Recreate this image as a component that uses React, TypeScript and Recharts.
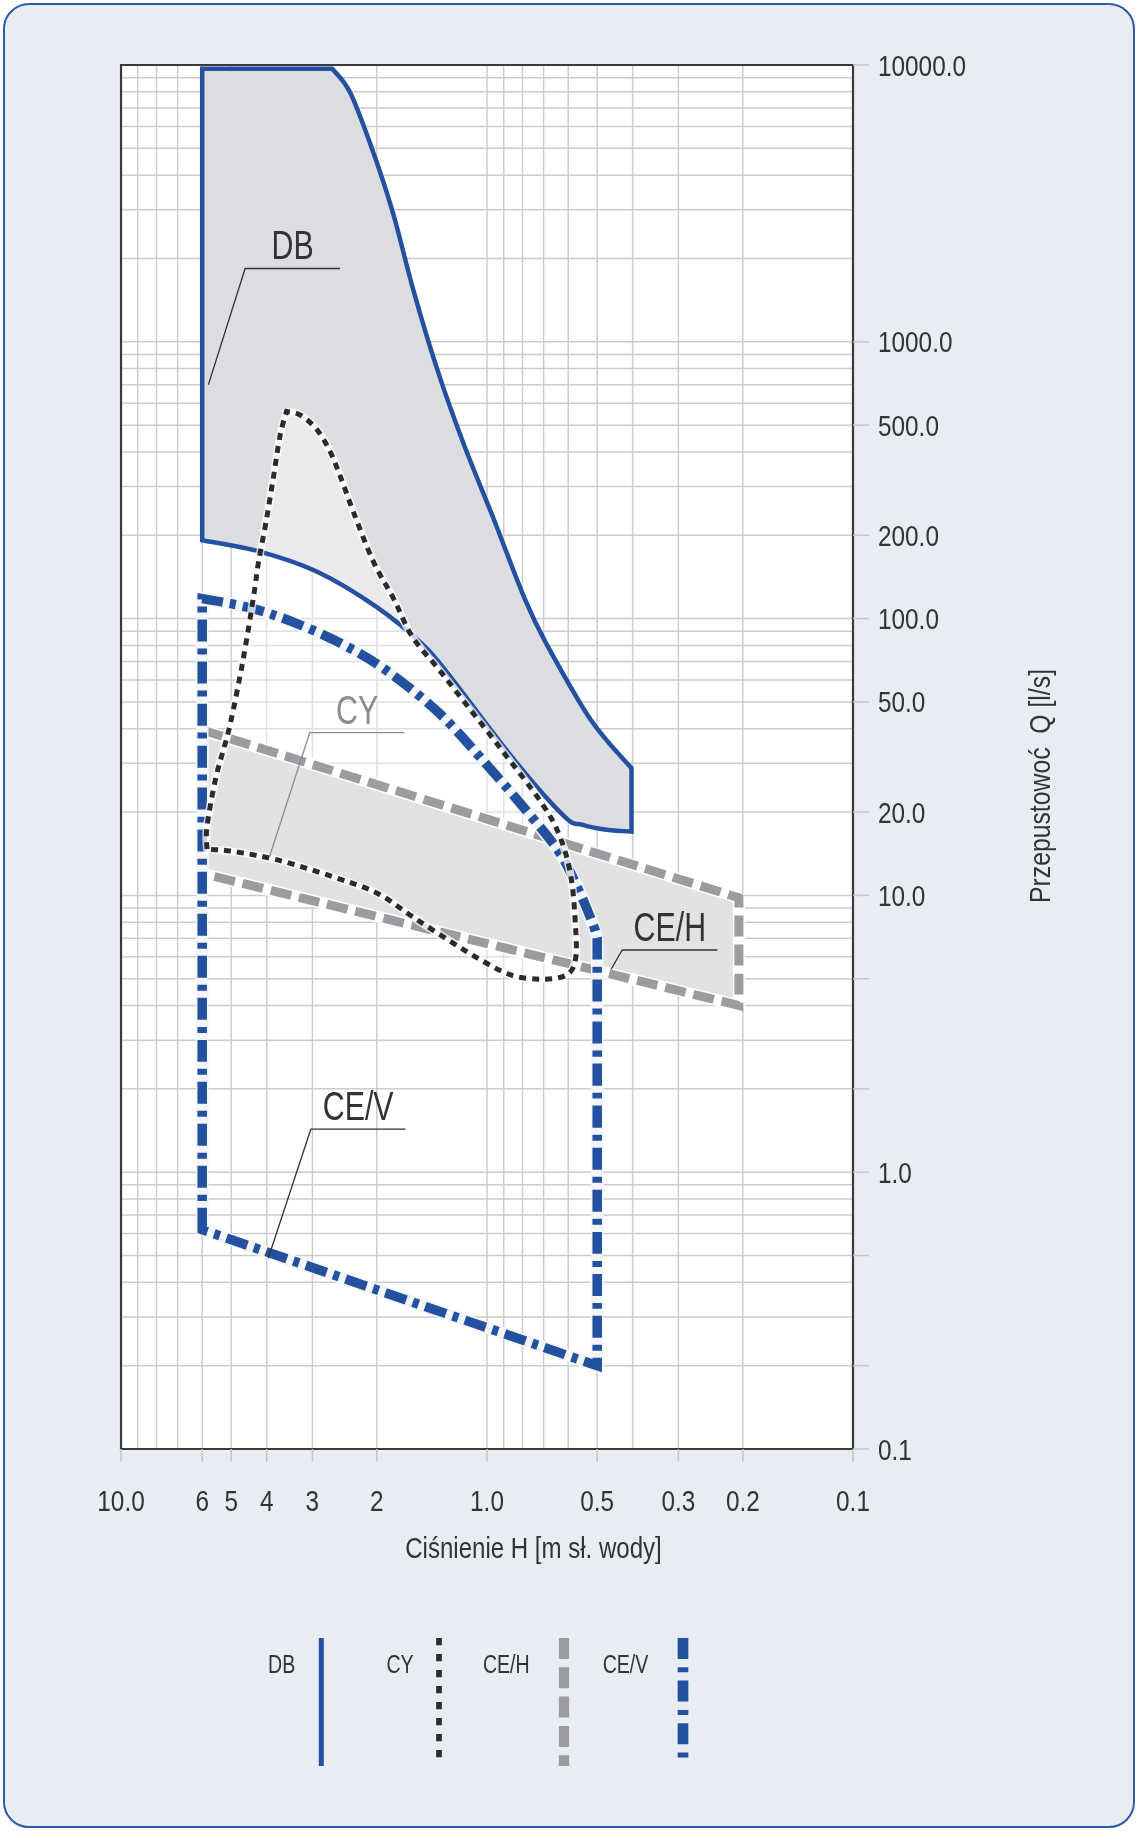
import React from 'react';
import { ScatterChart, Scatter, XAxis, YAxis, CartesianGrid, ReferenceArea } from 'recharts';

type Pt = [number, number]; // [H m sł. wody, Q l/s]
type XY = { x: number; y: number };

// DB region
const dbLeft: Pt[] = [[6, 192], [6, 9700]];
const dbTop: Pt[] = [[6, 9700], [2.65, 9700]];
const dbUpper: Pt[] = [
  [2.65, 9700], [2.36, 7900], [2.03, 4700], [1.8, 2870], [1.59, 1540], [1.37, 800],
  [1.16, 430], [0.96, 230], [0.787, 117], [0.688, 81], [0.52, 43], [0.403, 28.8],
];
const dbRight: Pt[] = [[0.403, 28.8], [0.403, 17]];
const dbLower: Pt[] = [
  [0.403, 17], [0.477, 17.3], [0.55, 18], [0.615, 19.3], [0.845, 31], [1.24, 60],
  [1.49, 80], [2.0, 110], [2.92, 148], [4.2, 175], [6, 192],
];

// CY region
const cyRise: Pt[] = [
  [5.82, 14.7], [5.82, 17.7], [5.5, 26.8], [5.05, 40.7], [4.64, 71], [4.33, 123],
  [4.21, 160], [4.02, 222], [3.84, 319], [3.68, 455], [3.53, 560],
];
const cyFall: Pt[] = [
  [3.53, 560], [3.24, 544], [2.92, 483], [2.69, 404], [2.52, 328], [2.32, 244],
  [2.05, 162], [1.8, 118], [1.6, 86], [1.36, 66], [1.207, 54], [0.911, 33.5],
  [0.708, 21.5], [0.632, 16.3], [0.59, 11.7], [0.573, 7.75], [0.573, 5.88],
  [0.606, 5.16], [0.708, 4.98], [0.861, 5.16], [1.048, 5.88], [1.276, 6.9],
  [1.6, 8.38], [2.0, 10.2], [2.65, 11.7], [3.71, 13.4], [4.91, 14.4], [5.82, 14.7],
];

// CE/H region
const cehTop: Pt[] = [[6, 39.6], [0.205, 9.8]];
const cehRight: Pt[] = [[0.205, 9.8], [0.205, 4.0]];
const cehBottom: Pt[] = [[0.205, 4.0], [6, 12.0]];
const cehLeft: Pt[] = [[6, 12.0], [6, 39.6]];

// CE/V region
const cevLeft: Pt[] = [[6, 0.62], [6, 118]];
const cevTop: Pt[] = [
  [6, 118], [4.52, 110], [3.41, 97.5], [2.51, 81.4], [1.89, 65.2], [1.35, 45.5],
  [0.991, 29.2], [0.77, 19.8], [0.632, 14.2], [0.557, 10.2], [0.512, 7.8], [0.5, 7.0],
];
const cevRight: Pt[] = [[0.5, 7.0], [0.5, 0.2]];
const cevBottom: Pt[] = [[0.5, 0.2], [6, 0.62]];

// label leaders
const dbLeader: Pt[] = [[5.77, 700], [4.58, 1840], [2.52, 1840]];
const cyLeader: Pt[] = [[3.93, 13.8], [3.05, 38.7], [1.68, 38.7]];
const cehLeader: Pt[] = [[0.458, 5.41], [0.427, 6.35], [0.2347, 6.35]];
const cevLeader: Pt[] = [[3.96, 0.489], [3.03, 1.43], [1.67, 1.43]];

const xTickValues = [10, 6, 5, 4, 3, 2, 1, 0.5, 0.3, 0.2, 0.1];
const xTickText = ['10.0', '6', '5', '4', '3', '2', '1.0', '0.5', '0.3', '0.2', '0.1'];
const yTickValues = [10000, 1000, 500, 200, 100, 50, 20, 10, 5, 2, 1, 0.5, 0.2, 0.1];
const yTickText = ['10000.0', '1000.0', '500.0', '200.0', '100.0', '50.0', '20.0', '10.0', '', '', '1.0', '', '', '0.1'];
const gridSteps = [1, 2, 3, 4, 5, 6, 7, 8, 9];
const xDecades = [0.1, 1];
const yDecades = [0.1, 1, 10, 100, 1000];
const legendNames = ['DB', 'CY', 'CE/H', 'CE/V'];

const FONT = "'Liberation Sans', Arial, sans-serif";
const BLUE = '#23519f';
const GREY = '#9c9ca0';
const DARK = '#2b2b2b';
const TEXT = '#333333';
const TICK = '#c3c7cc';

const logGrid = (decades: number[], last: number) => [
  ...decades.flatMap((d) => gridSteps.map((s) => +(s * d).toPrecision(6))),
  last,
];
const xGrid = logGrid(xDecades, 10);
const yGrid = logGrid(yDecades, 10000);

const rows = (segs: Pt[][]) => segs.flat().map(([h, q]) => ({ h, q }));
const sizes = (segs: Pt[][]) => segs.map((s) => s.length);

// catmull-rom inside each segment, corners between segments
const smoothPath = (pts: XY[], lens: number[], closed: boolean) => {
  let d = '';
  let k = 0;
  lens.forEach((n, si) => {
    const seg = pts.slice(k, k + n);
    k += n;
    seg.forEach((b, i) => {
      if (i === 0) {
        d += `${si === 0 ? 'M' : 'L'}${b.x.toFixed(1)},${b.y.toFixed(1)}`;
        return;
      }
      const a = seg[i - 1];
      const p = seg[i - 2] || a;
      const nx = seg[i + 1] || b;
      const c1x = a.x + (b.x - p.x) / 6;
      const c1y = a.y + (b.y - p.y) / 6;
      const c2x = b.x - (nx.x - a.x) / 6;
      const c2y = b.y - (nx.y - a.y) / 6;
      d += `C${c1x.toFixed(1)},${c1y.toFixed(1)} ${c2x.toFixed(1)},${c2y.toFixed(1)} ${b.x.toFixed(1)},${b.y.toFixed(1)}`;
    });
  });
  return closed ? d + 'Z' : d;
};

const noDot = () => <g />;

const fillLine = (segs: Pt[][], fill: string, opacity: number, blend: string) => (props: any) => (
  <path
    d={smoothPath(props.points, sizes(segs), true)}
    fill={fill}
    fillOpacity={opacity}
    stroke="none"
    style={{ mixBlendMode: blend as any }}
  />
);

const strokeLine = (segs: Pt[][], color: string, width: number, dash?: string, halo?: string) => (props: any) => {
  const d = smoothPath(props.points, sizes(segs), true);
  return (
    <g>
      {halo && <path d={d} fill="none" stroke={halo} strokeWidth={width + 3} strokeLinejoin="round" />}
      <path d={d} fill="none" stroke={color} strokeWidth={width} strokeDasharray={dash} strokeLinejoin="miter" />
    </g>
  );
};

const leaderLine = (label: string, color: string) => (props: any) => {
  const p: XY[] = props.points;
  const cx = (p[1].x + p[2].x) / 2;
  return (
    <g>
      <polyline points={p.map((q) => `${q.x},${q.y}`).join(' ')} fill="none" stroke={color} strokeWidth={1.3} />
      <text
        transform={`translate(${cx},${p[1].y - 9}) scale(0.74,1)`}
        textAnchor="middle"
        fontFamily={FONT}
        fontSize={41}
        fill={color}
      >
        {label}
      </text>
    </g>
  );
};

const XTick = (props: any) => {
  const { x, y, payload } = props;
  const i = xTickValues.indexOf(payload.value);
  if (i < 0) return <g />;
  return (
    <g>
      <line x1={x} x2={x} y1={y - 33} y2={y - 20} stroke={TICK} strokeWidth={1.5} />
      <text transform={`translate(${x},${y + 29}) scale(0.84,1)`} textAnchor="middle" fontFamily={FONT} fontSize={29} fill={TEXT}>
        {xTickText[i]}
      </text>
    </g>
  );
};

const YTick = (props: any) => {
  const { x, y, payload } = props;
  const i = yTickValues.indexOf(payload.value);
  if (i < 0) return <g />;
  return (
    <g>
      <line x1={x - 25} x2={x - 9} y1={y} y2={y} stroke={TICK} strokeWidth={1.5} />
      <text transform={`translate(${x},${y + 10.5}) scale(0.84,1)`} textAnchor="start" fontFamily={FONT} fontSize={29} fill={TEXT}>
        {yTickText[i]}
      </text>
    </g>
  );
};

const dbSegs = [dbLeft, dbTop, dbUpper, dbRight, dbLower];
const cySegs = [cyRise, cyFall];
const cehSegs = [cehTop, cehRight, cehBottom, cehLeft];
const cevSegs = [cevLeft, cevTop, cevRight, cevBottom];

// legend layout (px)
const legendText = [281.7, 400, 506.3, 625.5];
const legendLine = [321.3, 439, 564, 683];

const App: React.FC = () => {
  return (
    <div style={{ position: 'absolute', left: 0, top: 0, width: 1137, height: 1831, background: '#ffffff' }}>
      <div
        style={{
          position: 'absolute',
          left: 3,
          top: 3,
          width: 1132,
          height: 1825,
          boxSizing: 'border-box',
          border: '2.5px solid #2d5ba6',
          borderRadius: 26,
          background: '#e8edf4',
        }}
      />
      <div style={{ position: 'absolute', left: 0, top: 0 }}>
        <ScatterChart width={1137} height={1831} margin={{ top: 65, left: 121, right: 134, bottom: 262 }}>
          <CartesianGrid stroke="#c9ccd1" strokeWidth={1.5} fill="#ffffff" fillOpacity={1} />
          <XAxis
            type="number"
            dataKey="h"
            scale="log"
            domain={[0.1, 10]}
            reversed
            allowDataOverflow
            ticks={xGrid}
            interval={0}
            tick={(p: any) => <XTick {...p} />}
            tickLine={false}
            axisLine={false}
            tickSize={13}
            tickMargin={20}
            height={120}
          />
          <YAxis
            type="number"
            dataKey="q"
            orientation="right"
            scale="log"
            domain={[0.1, 10000]}
            allowDataOverflow
            ticks={yGrid}
            interval={0}
            tick={(p: any) => <YTick {...p} />}
            tickLine={false}
            axisLine={false}
            tickSize={16}
            tickMargin={9}
            width={150}
          />
          {/* fills */}
          <Scatter name="DB fill" data={rows(dbSegs)} shape={noDot} line={fillLine(dbSegs, '#dcdde0', 1, 'multiply')} isAnimationActive={false} />
          <Scatter name="CY fill" data={rows(cySegs)} shape={noDot} line={fillLine(cySegs, '#ffffff', 0.4, 'normal')} isAnimationActive={false} />
          <Scatter name="CE/H fill" data={rows(cehSegs)} shape={noDot} line={fillLine(cehSegs, '#e1e2e4', 1, 'multiply')} isAnimationActive={false} />
          {/* outlines */}
          <Scatter name="DB" data={rows(dbSegs)} shape={noDot} line={strokeLine(dbSegs, BLUE, 4.5)} isAnimationActive={false} />
          <Scatter name="CE/H" data={rows(cehSegs)} shape={noDot} line={strokeLine(cehSegs, GREY, 9, '21 8', '#ffffff')} isAnimationActive={false} />
          <Scatter name="CE/V" data={rows(cevSegs)} shape={noDot} line={strokeLine(cevSegs, BLUE, 9.5, '22 7 6 7', '#f4f5f7')} isAnimationActive={false} />
          <Scatter name="CY" data={rows(cySegs)} shape={noDot} line={strokeLine(cySegs, DARK, 5, '7 6', 'rgba(255,255,255,0.75)')} isAnimationActive={false} />
          {/* leaders */}
          <Scatter name="DB label" data={rows([dbLeader])} shape={noDot} line={leaderLine('DB', TEXT)} isAnimationActive={false} />
          <Scatter name="CY label" data={rows([cyLeader])} shape={noDot} line={leaderLine('CY', '#8c8c90')} isAnimationActive={false} />
          <Scatter name="CE/H label" data={rows([cehLeader])} shape={noDot} line={leaderLine('CE/H', TEXT)} isAnimationActive={false} />
          <Scatter name="CE/V label" data={rows([cevLeader])} shape={noDot} line={leaderLine('CE/V', TEXT)} isAnimationActive={false} />
          <ReferenceArea x1={10} x2={0.1} y1={0.1} y2={10000} fill="none" stroke="#3a3a3a" strokeWidth={2.2} ifOverflow="visible" />
        </ScatterChart>
      </div>
      <svg width={1137} height={1831} style={{ position: 'absolute', left: 0, top: 0, pointerEvents: 'none' }}>
        <text transform="translate(533.5,1558) scale(0.83,1)" textAnchor="middle" fontFamily={FONT} fontSize={29} fill={TEXT}>
          Ciśnienie H [m sł. wody]
        </text>
        <text
          transform="translate(1050,786) rotate(-90) scale(0.84,1)"
          textAnchor="middle"
          fontFamily={FONT}
          fontSize={29.5}
          fill={TEXT}
          style={{ whiteSpace: 'pre' }}
        >
          {'Przepustowoć  Q [l/s]'}
        </text>
        {legendNames.map((n, i) => (
          <text
            key={n}
            transform={`translate(${legendText[i]},1673) scale(0.74,1)`}
            textAnchor="middle"
            fontFamily={FONT}
            fontSize={26.5}
            fill={TEXT}
          >
            {n}
          </text>
        ))}
        <line x1={legendLine[0]} x2={legendLine[0]} y1={1638} y2={1766} stroke={BLUE} strokeWidth={5} />
        <line x1={legendLine[1]} x2={legendLine[1]} y1={1638} y2={1758} stroke={DARK} strokeWidth={5.7} strokeDasharray="7.3 8.7" />
        <line x1={legendLine[2]} x2={legendLine[2]} y1={1638} y2={1766} stroke={GREY} strokeWidth={10.3} strokeDasharray="21 8.3" />
        <line x1={legendLine[3]} x2={legendLine[3]} y1={1638} y2={1758} stroke={BLUE} strokeWidth={10.7} strokeDasharray="21 8.3 5 8.3" />
      </svg>
    </div>
  );
};

export default App;
